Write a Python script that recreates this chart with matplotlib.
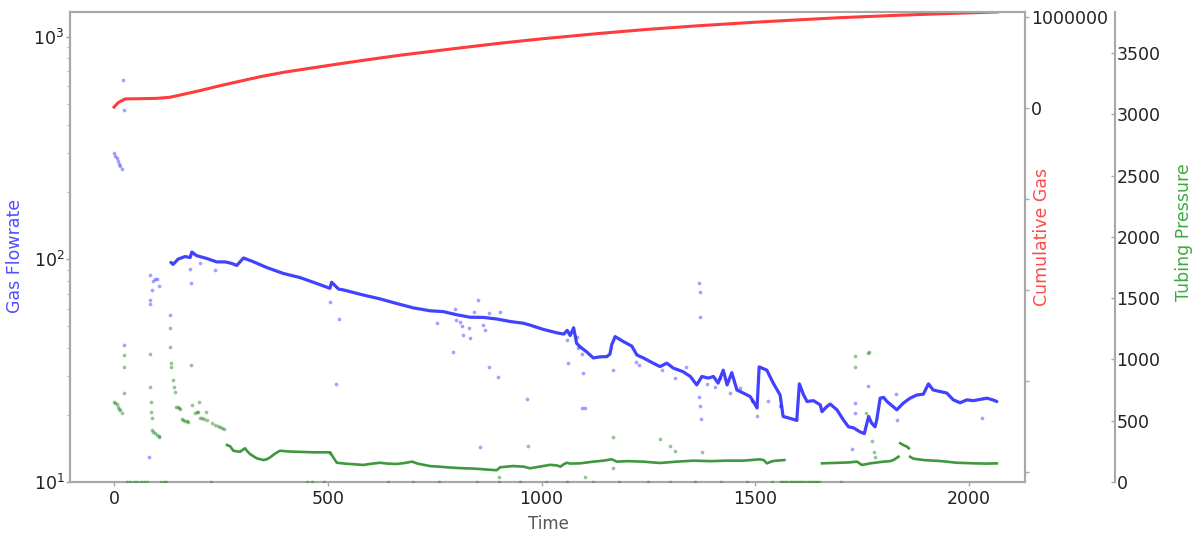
import matplotlib
matplotlib.use("Agg")
import matplotlib.pyplot as plt
import numpy as np
from matplotlib.ticker import FixedLocator, FuncFormatter, NullFormatter

# gas flowrate, main decline trend
flow_t = [133, 138, 150, 166, 178, 182, 193, 217, 240, 260, 275, 287, 303, 326, 357, 396, 435, 474, 505, 509,
          525, 536, 583, 622, 661, 700, 739, 770, 802, 833, 864, 895, 927, 957, 973, 1004, 1036, 1052, 1060, 1067,
          1075, 1082, 1090, 1105, 1121, 1137, 1153, 1160, 1164, 1172, 1191, 1211, 1223, 1238, 1261, 1277, 1293, 1308,
          1331, 1348, 1363, 1375, 1390, 1402, 1413, 1425, 1434, 1445, 1457, 1472, 1488, 1500, 1504, 1509, 1527, 1542,
          1558, 1565, 1582, 1597, 1603, 1613, 1621, 1636, 1652, 1656, 1667, 1675, 1691, 1706, 1718, 1730, 1745, 1755,
          1765, 1772, 1780, 1784, 1792, 1800, 1808, 1820, 1831, 1846, 1862, 1878, 1893, 1905, 1916, 1932, 1948, 1963,
          1979, 1995, 2010, 2026, 2042, 2055, 2065]
flow_rate = [97, 95, 100.4, 103, 102, 108, 104, 101, 97.5, 97.5, 96, 94, 101.5, 97.6, 92, 86.5, 82.9, 78, 74.2, 79,
             73.6, 73, 69.2, 66.5, 63.4, 60.6, 58.8, 58.3, 56.4, 55, 54.9, 54, 52.6, 51.7, 50.7, 48.5, 46.8, 46.2, 48, 45.5,
             49.3, 42, 40.5, 38.5, 36.1, 36.5, 36.6, 37.6, 41.3, 45, 42.8, 40.8, 37.2, 36.1, 34.2, 33, 34.2, 32.5,
             31.3, 29.8, 27.3, 29.8, 29.3, 29.8, 27.8, 31.8, 27.3, 31, 25.9, 25.1, 24.2, 22.2, 21.5, 32.9, 31.8, 27.8,
             24.6, 19.7, 19.3, 18.9, 27.6, 24.6, 23, 23.2, 22.2, 20.7, 21.8, 22.4, 21.1, 19, 17.7, 17.5, 16.8, 16.5,
             19.7, 18.4, 17.7, 19.0, 23.8, 24.0, 23.0, 22.0, 21.1, 22.6, 23.8, 24.6, 24.8, 27.6, 25.9, 25.5, 25.1, 23.4,
             22.7, 23.4, 23.2, 23.5, 23.8, 23.4, 23.0]

# scattered flowrate readings off the trend
flow_pts_t = [0, 3, 6, 9, 12, 15, 18, 20, 23, 23, 82, 84, 84, 84, 88, 92, 96, 100, 105, 131,
              178, 180, 201, 236, 505, 520, 527, 755, 793, 798, 800, 810, 814, 817, 831, 833, 841,
              852, 856, 864, 868, 876, 878, 899, 903, 967, 1059, 1063, 1082, 1086, 1094, 1094, 1098, 1102,
              1168, 1221, 1227, 1281, 1313, 1339, 1369, 1370, 1371, 1369, 1370, 1372,
              1387, 1406, 1418, 1440, 1465, 1492, 1504, 1530, 1558, 1726, 1734, 1734, 1763, 1830, 1831, 2030]
flow_pts_rate = [300, 292, 285, 278, 268, 262, 255, 637, 470, 41.3, 13, 85, 66, 63, 73, 80, 82, 81.5, 76, 56,
                 91, 78, 96, 90, 64.5, 27.5, 54, 51.8, 38.5, 60, 53.5, 52.6, 50, 45.6, 49, 44.3, 58,
                 65.7, 14.4, 50.8, 48.2, 32.9, 57.2, 29.6, 58.2, 23.6, 43.5, 34.3, 45, 39.8, 37.6, 21.4, 30.9, 21.5,
                 31.8, 34.6, 33.5, 31.8, 29.3, 32.9, 78, 71.5, 55, 24.2, 22, 19.2,
                 27.6, 26.8, 29.3, 25.1, 26.4, 23, 19.7, 23.2, 21.9, 14.1, 22.6, 20.4, 27, 24.8, 19, 19.4]

# cumulative gas produced
cum_t = [0, 10, 26, 60, 100, 131, 200, 248, 300, 342, 400, 435, 529, 600, 669, 800, 903, 1000, 1137, 1250,
         1371, 1500, 1605, 1700, 1839, 1950, 2066]
cum_gas = [10000, 60000, 100000, 102000, 106000, 118000, 190000, 245000, 300000, 344000, 395000, 420000, 487000,
           535000, 580000, 655000, 712000, 760000, 820000, 865000, 905000, 943000, 970000, 993000, 1020000,
           1038000, 1055000]

# tubing pressure trend (nan = shut-in gap)
nan = float("nan")
tubing_t = [264, 272, 279, 287, 295, 306, 312, 318, 326, 334, 349, 357, 365, 376, 388, 404, 420, 443, 466, 485,
            505, 521, 540, 560, 583, 600, 622, 640, 661, 680, 697, 710, 739, 760, 778, 800, 817, 836, 856, 870,
            887, 895, 903, 918, 934, 958, 973, 990, 1004, 1020, 1036, 1044, 1052, 1059, 1067, 1090, 1121, 1145, 1164, 1176,
            1200, 1238, 1277, 1316, 1355, 1394, 1433, 1472, 1511, 1520, 1527, 1540, 1550, 1568, nan,
            1656, 1680, 1699, 1720, 1738, 1749, 1769, 1800, 1815, 1823, 1835, nan, 1839, 1847, 1855, 1859, nan,
            1862, 1870, 1894, 1912, 1932, 1950, 1971, 1990, 2011, 2040, 2065]
tubing_p = [302, 290, 255, 250, 247, 275, 250, 228, 210, 193, 179, 185, 201, 230, 255, 250, 247, 245, 242, 242,
            242, 157, 150, 145, 139, 148, 157, 150, 147, 155, 166, 150, 130, 125, 120, 115, 112, 110, 106, 102,
            98, 96, 120, 125, 130, 125, 112, 122, 130, 140, 135, 125, 145, 157, 150, 152, 166, 174, 185, 166,
            170, 166, 155, 166, 174, 170, 174, 174, 185, 178, 152, 170, 174, 179, nan,
            152, 155, 157, 160, 166, 139, 152, 166, 170, 179, 206, nan, 316, 300, 288, 275, nan,
            206, 190, 179, 175, 171, 165, 157, 155, 152, 150, 152]

# scattered pressure readings
tubing_pts_t = [0, 3, 6, 9, 12, 15, 18, 23, 23, 23, 84, 85, 86, 87, 88, 88, 92, 96, 100, 104, 106,
                131, 132, 133, 134, 137, 140, 142, 146, 149, 152, 155, 158, 162, 166, 170, 174, 179, 182,
                190, 193, 197, 199, 201, 205, 210, 215, 217, 228, 236, 242, 248, 252, 257,
                505, 901, 969, 1102, 1168, 1168, 1277, 1301, 1313, 1375, 1734, 1734, 1760, 1763, 1765, 1773, 1777, 1779]
tubing_pts_p = [650, 645, 640, 610, 595, 590, 563, 723, 940, 1036, 1044, 777, 655, 573, 519, 424, 410, 400, 385, 375, 370,
                1254, 1101, 970, 940, 832, 777, 737, 615, 609, 600, 593, 511, 505, 500, 495, 492, 954, 628,
                560, 570, 573, 650, 519, 525, 510, 573, 506, 480, 465, 455, 446, 440, 432,
                239, 43, 294, 43, 370, 114, 348, 294, 255, 247, 1028, 941, 560, 1050, 1063, 337, 247, 206]

# days where tubing pressure read zero
tubing_zero_t = [30, 38, 46, 54, 62, 70, 78, 110, 116, 122, 226, 452, 462, 490, 640, 700, 760, 850, 900, 950,
                 1010, 1060, 1120, 1180, 1250, 1300, 1360, 1420, 1480, 1540, 1560, 1565, 1570, 1575, 1580, 1585,
                 1590, 1595, 1600, 1605, 1610, 1615, 1620, 1625, 1630, 1635, 1640, 1645, 1650, 1700]

x_ticks = [0, 500, 1000, 1500, 2000]
cum_ticks = [-4000000, -3000000, -2000000, -1000000, 0, 1000000]
tubing_ticks = [0, 500, 1000, 1500, 2000, 2500, 3000, 3500]

spine_col = "#a8a8a8"
tick_col = "#222222"

fig = plt.figure(figsize=(11.95, 5.33), dpi=100)
ax = fig.add_axes([0.0586, 0.0957, 0.7992, 0.8818])
ax2 = ax.twinx()
ax3 = ax.twinx()

# gas flowrate (log)
ax.plot(flow_t, flow_rate, color="#1f1fff", lw=2.3, alpha=0.85, solid_capstyle="round")
ax.scatter(flow_pts_t, flow_pts_rate, s=7, color="#3030ff", alpha=0.45, linewidths=0)
ax.set_yscale("log")
ax.set_ylim(10, 1294)
ax.set_xlim(-103, 2131)
ax.set_xticks(x_ticks)

# cumulative gas
ax2.plot(cum_t, cum_gas, color="#ff3b3b", lw=2.2)
ax2.set_ylim(-4110000, 1055000)
ax2.yaxis.set_major_locator(FixedLocator(cum_ticks))
ax2.yaxis.set_major_formatter(FuncFormatter(lambda v, p: f"{v:.0f}" if v >= 0 else ""))

# tubing pressure, on an axis pushed out 90 px to the right
ax3.plot(tubing_t, tubing_p, color="#2a8c2a", lw=1.9, alpha=0.9)
ax3.scatter(tubing_pts_t, tubing_pts_p, s=7, color="#2a8c2a", alpha=0.5, linewidths=0)
ax3.scatter(tubing_zero_t, np.zeros(len(tubing_zero_t)), s=7, color="#2a8c2a", alpha=0.5, linewidths=0)
ax3.set_ylim(0, 3834)
ax3.set_yticks(tubing_ticks)
ax3.spines["right"].set_position(("outward", 90 * 72 / 100))
for side in ["top", "left", "bottom"]:
    ax3.spines[side].set_visible(False)

for a in (ax, ax2, ax3):
    for sp in a.spines.values():
        sp.set_color(spine_col)
        sp.set_linewidth(1.5)
    a.tick_params(colors=spine_col, labelcolor=tick_col, labelsize=12.5, width=1)

ax.tick_params(axis="y", which="major", pad=1, length=3)
ax.tick_params(axis="y", which="minor", length=2.5, color=spine_col)
ax.yaxis.set_minor_formatter(NullFormatter())
ax.tick_params(axis="x", length=3, pad=3)
ax2.tick_params(axis="y", length=3, pad=1)
ax3.tick_params(axis="y", direction="in", length=3, pad=1)

ax.set_xlabel("Time", color="#555555", fontsize=12)
ax.xaxis.set_label_coords(0.5005, -0.07)
ax.set_ylabel("Gas Flowrate", color="#4f4fff", fontsize=12.5)
ax.yaxis.set_label_coords(-0.048, 0.481)
ax2.set_ylabel("Cumulative Gas", color="#ff4a4a", fontsize=12.5)
ax2.yaxis.set_label_coords(1.0084, 0.521)
ax3.set_ylabel("Tubing Pressure", color="#3fa83f", fontsize=12.5)
ax3.yaxis.set_label_coords(1.157, 0.532)

fig.savefig("out.png", dpi=100)
